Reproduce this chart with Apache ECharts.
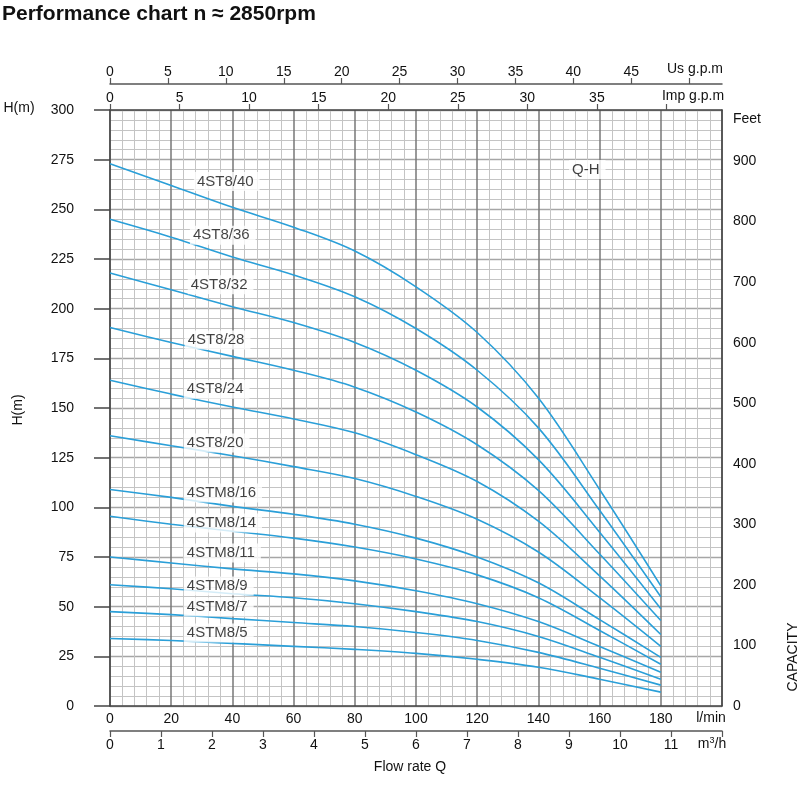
<!DOCTYPE html>
<html>
<head>
<meta charset="utf-8">
<title>Performance chart</title>
<script src="https://cdn.jsdelivr.net/npm/echarts@6/dist/echarts.min.js"></script>
<style>
    html, body { margin: 0; padding: 0; background: #fff; }
    #chart { width: 800px; height: 786px; }
</style>
</head>
<body>
<div id="chart"></div>
<script>
// flow rate (l/min) where the heads were read
const flowQ = [0, 20, 40, 60, 80, 100, 120, 140, 160, 180]

// head (m) for each pump model
const h_4ST8_40 = [273, 262, 251, 241, 229, 211, 188, 155, 109, 60.5]
const h_4ST8_36 = [245, 236, 226, 217, 206, 190, 169, 140, 98.5, 55]
const h_4ST8_32 = [218, 209.5, 201, 193, 183, 169, 150.5, 124, 87.5, 49]
const h_4ST8_28 = [190.5, 183, 176, 169, 160.5, 148, 131.5, 108.5, 76.5, 43]
const h_4ST8_24 = [164, 157, 150.5, 144.5, 137.5, 126.5, 113, 93, 65.5, 36]
const h_4ST8_20 = [136, 131, 126, 120.5, 114.5, 105.5, 94, 77.5, 54.5, 30]
const h_4STM8_16 = [109, 105, 100.5, 96.5, 91.5, 84.5, 75, 62, 43.5, 24.5]
const h_4STM8_14 = [95.5, 91.5, 88, 84.5, 80, 74, 66, 54.5, 38, 21]
const h_4STM8_11 = [75, 72, 69, 66.5, 63, 58, 51.5, 42.5, 30, 17]
const h_4STM8_9 = [61, 59, 56.5, 54.5, 51.5, 47.5, 42.5, 35, 24.5, 13.5]
const h_4STM8_7 = [47.5, 46, 44, 42, 40, 37, 33, 27, 19, 10.5]
const h_4STM8_5 = [34, 33, 31.5, 30, 28.5, 26.5, 23.5, 19.5, 13.5, 7]

const models = ['4ST8/40', '4ST8/36', '4ST8/32', '4ST8/28', '4ST8/24', '4ST8/20',
    '4STM8/16', '4STM8/14', '4STM8/11', '4STM8/9', '4STM8/7', '4STM8/5']
const heads = [h_4ST8_40, h_4ST8_36, h_4ST8_32, h_4ST8_28, h_4ST8_24, h_4ST8_20,
    h_4STM8_16, h_4STM8_14, h_4STM8_11, h_4STM8_9, h_4STM8_7, h_4STM8_5]

// tick labels
const lpmTicks = [0, 20, 40, 60, 80, 100, 120, 140, 160, 180]
const m3hTicks = [0, 1, 2, 3, 4, 5, 6, 7, 8, 9, 10, 11, 12]
const impTicks = [0, 5, 10, 15, 20, 25, 30, 35, 40]
const usTicks = [0, 5, 10, 15, 20, 25, 30, 35, 40, 45, 50]
const feetTicks = [0, 100, 200, 300, 400, 500, 600, 700, 800, 900]

// unit conversions for the secondary axes
const LPM_MAX = 200
const TO_M3H = 0.06
const TO_IMP = 0.219969
const TO_US = 0.264172
const TO_FEET = 3.28084

// where the curve names sit (l/min, m)
const labelAnchors = [[27.4, 264], [26.1, 237], [25.4, 212], [24.4, 184.2], [24.1, 159.5], [24.1, 132.4],
    [24.1, 107.2], [24.1, 92.1], [24.1, 77], [24.1, 60.4], [24.1, 49.8], [24.1, 36.7]]

const FONT = '"Liberation Sans", Arial, sans-serif'
const TXT = '#111'
const BLUE = '#2a9fd8'

const myChart = echarts.init(document.getElementById('chart'))

const series = models.map(function (name, i) {
    return {
        name: name,
        type: 'line',
        xAxisIndex: 0,
        yAxisIndex: 0,
        smooth: 0.35,
        showSymbol: false,
        silent: true,
        lineStyle: { color: BLUE, width: 1.6 },
        data: flowQ.map(function (q, j) { return [q, heads[i][j]] }),
        z: 3
    }
})

const labelData = models.map(function (name, i) {
    return { value: labelAnchors[i], name: name }
})
labelData.push({ value: [150, 270], name: 'Q-H' })

series.push({
    type: 'scatter',
    xAxisIndex: 0,
    yAxisIndex: 0,
    symbolSize: 0.1,
    silent: true,
    itemStyle: { color: 'rgba(0,0,0,0)' },
    label: {
        show: true,
        position: 'right',
        distance: 0,
        formatter: '{b}',
        fontSize: 15,
        fontFamily: FONT,
        color: TXT,
        backgroundColor: '#fff',
        padding: [2, 6, 2, 3]
    },
    data: labelData,
    z: 10
})

function text(x, y, str, opt) {
    opt = opt || {}
    return {
        type: 'text',
        x: x,
        y: y,
        rotation: opt.rotation || 0,
        z: 20,
        style: {
            text: str,
            fill: opt.color || TXT,
            fontSize: opt.size || 14,
            fontWeight: opt.weight || 'normal',
            fontFamily: FONT,
            align: opt.align || 'center',
            verticalAlign: 'middle',
            textAlign: opt.align || 'center',
            textVerticalAlign: 'middle'
        }
    }
}

const option = {
    backgroundColor: '#fff',
    animation: false,
    grid: { left: 110, right: 78, top: 110, bottom: 80 },
    xAxis: [
        {
            type: 'value', min: 0, max: LPM_MAX, interval: 20, position: 'bottom',
            axisLine: { show: true, onZero: false, lineStyle: { color: '#444', width: 1.5 } },
            axisTick: { show: false },
            axisLabel: {
                margin: 6, fontSize: 14, color: TXT, fontFamily: FONT,
                customValues: lpmTicks,
                formatter: function (v) { return v <= 180 ? v : '' }
            },
            splitLine: { show: true, lineStyle: { color: '#777', width: 1.5 } },
            minorTick: { show: false, splitNumber: 5 },
            minorSplitLine: { show: true, lineStyle: { color: '#c4c4c4', width: 1 } }
        },
        {
            type: 'value', min: 0, max: LPM_MAX * TO_M3H, interval: 1, position: 'bottom', offset: 25,
            axisLine: { show: true, onZero: false, lineStyle: { color: '#555', width: 1.5 } },
            axisTick: { show: true, length: 6, customValues: m3hTicks, lineStyle: { color: '#555', width: 1.2 } },
            axisLabel: {
                margin: 7, fontSize: 14, color: TXT, fontFamily: FONT,
                customValues: m3hTicks.slice(0, 12),
                formatter: function (v) { return v <= 11 ? v : '' }
            },
            splitLine: { show: false }
        },
        {
            type: 'value', min: 0, max: LPM_MAX * TO_IMP, interval: 5, position: 'top',
            axisLine: { show: true, onZero: false, lineStyle: { color: '#444', width: 1.5 } },
            axisTick: { show: true, length: 6, customValues: impTicks, lineStyle: { color: '#555', width: 1.2 } },
            axisLabel: {
                margin: 5, fontSize: 14, color: TXT, fontFamily: FONT,
                customValues: impTicks.slice(0, 8),
                formatter: function (v) { return v <= 35 ? v : '' }
            },
            splitLine: { show: false }
        },
        {
            type: 'value', min: 0, max: LPM_MAX * TO_US, interval: 5, position: 'top', offset: 26,
            axisLine: { show: true, onZero: false, lineStyle: { color: '#555', width: 1.5 } },
            axisTick: { show: true, length: 6, customValues: usTicks, lineStyle: { color: '#555', width: 1.2 } },
            axisLabel: {
                margin: 5, fontSize: 14, color: TXT, fontFamily: FONT,
                customValues: usTicks.slice(0, 10),
                formatter: function (v) { return v <= 45 ? v : '' }
            },
            splitLine: { show: false }
        }
    ],
    yAxis: [
        {
            type: 'value', min: 0, max: 300, interval: 25, position: 'left',
            axisLine: { show: true, onZero: false, lineStyle: { color: '#444', width: 1.5 } },
            axisTick: { show: true, length: 16, lineStyle: { color: '#444', width: 1.5 } },
            axisLabel: { margin: 36, fontSize: 14, color: TXT, fontFamily: FONT },
            splitLine: { show: true, lineStyle: { color: '#a6a6a6', width: 1.3 } },
            minorTick: { show: false, splitNumber: 5 },
            minorSplitLine: { show: true, lineStyle: { color: '#c4c4c4', width: 1 } }
        },
        {
            type: 'value', min: 0, max: 300 * TO_FEET, interval: 100, position: 'right',
            axisLine: { show: true, onZero: false, lineStyle: { color: '#444', width: 1.5 } },
            axisTick: { show: false },
            axisLabel: {
                margin: 11, fontSize: 14, color: TXT, fontFamily: FONT,
                customValues: feetTicks,
                formatter: function (v) { return v <= 900 ? v : '' }
            },
            splitLine: { show: false }
        }
    ],
    graphic: [
        text(2, 14, 'Performance chart n \u2248 2850rpm', { size: 21, weight: 'bold', align: 'left', color: '#111' }),
        text(19, 108, 'H(m)'),
        text(18, 410, 'H(m)', { rotation: Math.PI / 2 }),
        text(747, 119, 'Feet'),
        text(793, 657, 'CAPACITY', { rotation: Math.PI / 2 }),
        text(695, 69, 'Us g.p.m'),
        text(693, 96, 'Imp g.p.m'),
        text(711, 718, 'l/min'),
        {
            type: 'text', x: 712, y: 744, z: 20,
            style: {
                text: 'm{s|3}/h', fill: TXT, fontSize: 14, fontFamily: FONT,
                align: 'center', verticalAlign: 'middle', textAlign: 'center', textVerticalAlign: 'middle',
                rich: { s: { fontSize: 9, verticalAlign: 'top', padding: [0, 0, 6, 0], fill: TXT, fontFamily: FONT } }
            }
        },
        text(410, 767, 'Flow rate Q')
    ],
    series: series
}

myChart.setOption(option)

window.addEventListener('resize', function () {
    myChart.resize()
})
</script>
</body>
</html>
